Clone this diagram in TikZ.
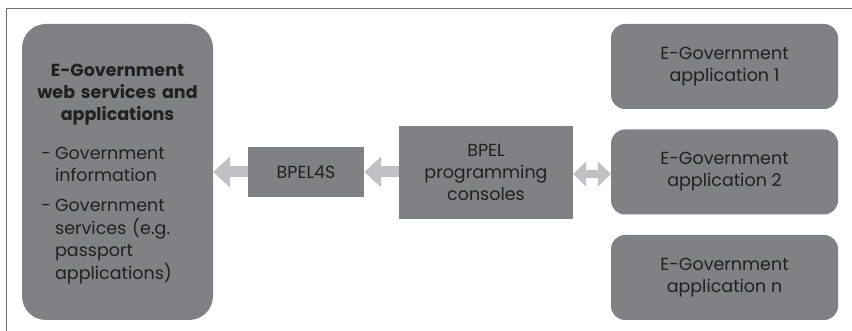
\documentclass[tikz,border=0pt]{standalone}
\usepackage{xcolor}
\usepackage{fontspec}
\setmainfont{Poppins}
\usepackage{tikz}
\usetikzlibrary{arrows.meta, positioning}

\definecolor{boxgray}{HTML}{808184}
\definecolor{arrowgray}{HTML}{C0C1C4}
\definecolor{framegray}{HTML}{6D6E71}
\definecolor{inkdark}{HTML}{231F20}

\begin{document}
\begin{tikzpicture}[
    x=1pt, y=-1pt,
    box/.style={fill=boxgray, text=inkdark, align=center, inner sep=0pt, font=\fontsize{17.5}{22}\selectfont},
    appbox/.style={box, rounded corners=14pt, minimum width=227pt, minimum height=85pt},
    bigarrow/.style={draw=arrowgray, line width=11pt, -{Triangle[length=17pt, width=30pt]}},
    duoarrow/.style={draw=arrowgray, line width=8pt, {Triangle[length=13pt, width=25pt]}-{Triangle[length=13pt, width=25pt]}}
]
    \useasboundingbox (0,0) rectangle (852,331);
    \draw[framegray, line width=1.2pt] (852,8.5) -- (6.5,8.5) -- (6.5,331);

    \node[box, rounded corners=24pt, minimum width=191pt, minimum height=296pt] at (117.5,172) (egov) {};
    \node[text=inkdark, inner sep=0pt, text width=176pt, align=left, font=\fontsize{17.5}{22}\selectfont] at (117.5,175.5) (egovtext) {%
        {\centering\bfseries E-Government\\web services and\\applications\par}
        \vspace{18pt}
        \hspace*{12pt}\begin{tabular}{@{}l@{\hspace{4pt}}l@{}}
            - & Government\\ & information\\[8pt]
            - & Government\\ & services (e.g.\\ & passport\\ & applications)
        \end{tabular}};

    \node[box, minimum width=116pt, minimum height=50pt] at (306,172) (bpelfs) {BPEL4S};
    \node[box, minimum width=174pt, minimum height=93pt] at (486,172.5) (bpel) {BPEL\\programming\\consoles};

    \node[appbox] at (724.5,66.5) (app1) {E-Government\\application 1};
    \node[appbox] at (724.5,172) (app2) {E-Government\\application 2};
    \node[appbox] at (724.5,277.5) (appn) {E-Government\\application n};

    \draw[bigarrow] (bpelfs.west) -- (egov.east);
    \draw[bigarrow] (bpel.west |- bpelfs.west) -- (bpelfs.east);
    \draw[duoarrow] ([yshift=-1.5pt]bpel.east) -- ([yshift=-1.5pt]bpel.east -| app2.west);
\end{tikzpicture}
\end{document}
